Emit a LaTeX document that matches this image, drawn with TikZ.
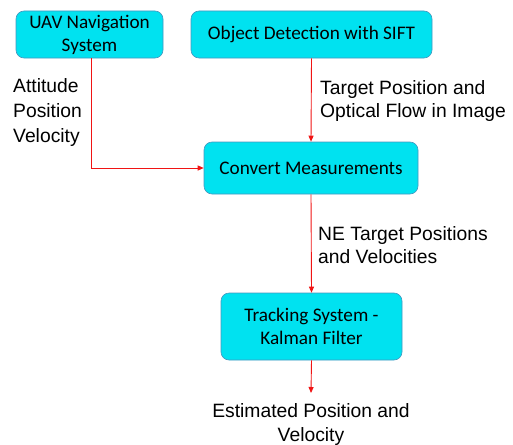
\documentclass[tikz,border=0pt]{standalone}
\usepackage{fontspec}
\setmainfont{Liberation Sans}
\newfontfamily\boxfont{Carlito}
\usetikzlibrary{arrows.meta}
\definecolor{boxfill}{RGB}{0,226,240}
\definecolor{boxline}{RGB}{70,150,190}
\definecolor{arrowred}{RGB}{240,20,20}
\tikzset{
  blk/.style={draw=boxline, line width=0.6pt, fill=boxfill, rounded corners=8pt, align=center, font=\boxfont\fontsize{19.2}{23}\selectfont, inner sep=0pt},
  lbl/.style={align=left, inner sep=0pt},
  conn/.style={draw=arrowred, line width=0.9pt, -{Triangle[length=6pt,width=5pt]}}
}
\begin{document}
\begin{tikzpicture}[x=1pt,y=-1pt]
\useasboundingbox (0,0) rectangle (513,444);
\node[blk, minimum width=147pt, minimum height=47pt] (uav) at (89.5,34.5) {UAV Navigation\\System};
\node[blk, minimum width=241pt, minimum height=47pt] (obj) at (311.5,34.5) {Object Detection with SIFT};
\node[blk, minimum width=214pt, minimum height=52pt] (conv) at (311,168) {Convert Measurements};
\node[blk, minimum width=181pt, minimum height=67pt] (trk) at (311.5,326.5) {Tracking System -\\Kalman Filter};
\coordinate (out) at (311,393);
\node[lbl, anchor=base west, font=\fontsize{19.3}{25}\selectfont] (l1) at (13,142.5) {Attitude\\Position\\Velocity};
\node[lbl, anchor=base west, font=\fontsize{19.3}{23}\selectfont] (l2) at (320,117) {Target Position and\\Optical Flow in Image};
\node[lbl, anchor=base west, font=\fontsize{19.3}{23.3}\selectfont] (l3) at (318,263.3) {NE Target Positions\\and Velocities};
\node[lbl, align=center, anchor=base, font=\fontsize{19.3}{23.7}\selectfont] (est) at (311,441) {Estimated Position and\\Velocity};
\draw[conn] (uav.south -| 91,0) |- (conv.west);
\draw[conn] (obj.south) -- (conv.north);
\draw[conn] (conv.south) -- (trk.north);
\draw[conn] (trk.south) -- (out);
\end{tikzpicture}
\end{document}
